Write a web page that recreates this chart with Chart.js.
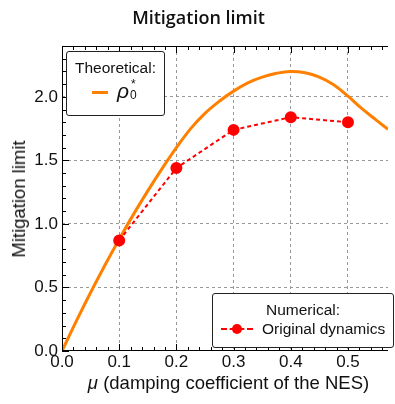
<html>
<head>
<meta charset="utf-8">
<script src="https://cdn.jsdelivr.net/npm/chart.js"></script>
<style>
  body { margin:0; background:#fff; }
  #wrap { position:relative; width:395px; height:404px; font-family:"Liberation Sans", Arial, sans-serif; color:#111; }
  #title { position:absolute; left:0; width:397px; top:5px; text-align:center; font-family:"Open Sans", sans-serif; font-weight:600; font-size:18px; }
  #ytitle { position:absolute; left:19px; top:199px; transform:translate(-50%,-50%) rotate(-90deg); white-space:nowrap; font-size:18.5px; }
  #xtitle { position:absolute; left:62px; width:333px; top:372px; text-align:center; font-size:18.5px; white-space:nowrap; }
  .box { position:absolute; border:1px solid #222; border-radius:3px; background:#fff; font-size:15.5px; }
  #legTheo { left:66px; top:51px; width:97px; height:63px; }
  #legNum { left:212px; top:293px; width:180px; height:53px; }
</style>
</head>
<body>
<div id="wrap">
  <canvas id="chart" width="395" height="404"></canvas>
  <div id="title">Mitigation limit</div>
  <div id="ytitle">Mitigation limit</div>
  <div id="xtitle"><i>μ</i> (damping coefficient of the NES)</div>
  <div class="box" id="legTheo">
    <div style="position:absolute;left:0;width:97px;top:7px;text-align:center;">Theoretical:</div>
    <div style="position:absolute;left:25px;top:39px;width:16px;height:3px;background:#ff8000;"></div>
    <div style="position:absolute;left:50px;top:28px;font-size:21px;line-height:21px;"><i>ρ</i></div>
    <div style="position:absolute;left:63px;top:37px;font-size:12px;line-height:12px;">0</div>
    <div style="position:absolute;left:64px;top:26px;font-size:12px;line-height:12px;">*</div>
  </div>
  <div class="box" id="legNum">
    <div style="position:absolute;left:0;width:180px;top:7px;text-align:center;">Numerical:</div>
    <div style="position:absolute;left:8px;top:34px;width:32px;border-top:2px dashed #f00;"></div>
    <div style="position:absolute;left:19px;top:30px;width:10px;height:10px;border-radius:50%;background:#f00;"></div>
    <div style="position:absolute;left:49px;top:26px;white-space:nowrap;">Original dynamics</div>
  </div>
</div>
<script>
// theoretical curve rho_0*
const muTheory = [0, 0.025, 0.05, 0.075, 0.1, 0.125, 0.15, 0.175, 0.2, 0.225, 0.25, 0.275, 0.3, 0.325, 0.35, 0.375, 0.4, 0.425, 0.45, 0.475, 0.5, 0.525, 0.55, 0.57];
const rhoTheory = [0, 0.235, 0.46, 0.675, 0.88, 1.075, 1.26, 1.435, 1.60, 1.75, 1.87, 1.965, 2.045, 2.11, 2.155, 2.185, 2.20, 2.19, 2.155, 2.095, 2.005, 1.905, 1.815, 1.745];
// numerical results (original dynamics)
const muNumeric = [0.1, 0.2, 0.3, 0.4, 0.5];
const limitNumeric = [0.87, 1.44, 1.74, 1.84, 1.80];
// tick values
const xTickValues = [0, 0.1, 0.2, 0.3, 0.4, 0.5];
const yTickValues = [0, 0.5, 1.0, 1.5, 2.0];
const xMinorStep = 0.02, yMinorStep = 0.1;

// inward ticks + frame, mathematica style
const frameTicks = {
  id: 'frameTicks',
  afterDraw(chart) {
    const ctx = chart.ctx, a = chart.chartArea;
    const xs = chart.scales.x, ys = chart.scales.y;
    ctx.save();
    ctx.strokeStyle = '#000';
    ctx.lineWidth = 1;
    ctx.beginPath();
    ctx.moveTo(a.right, a.top + 0.5); ctx.lineTo(a.left + 0.5, a.top + 0.5);
    ctx.lineTo(a.left + 0.5, a.bottom - 0.5); ctx.lineTo(a.right, a.bottom - 0.5);
    ctx.stroke();
    ctx.beginPath();
    for (let i = 0; i * xMinorStep <= xs.max + 1e-9; i++) {
      const v = i * xMinorStep;
      const px = Math.round(xs.getPixelForValue(v)) + 0.5;
      const len = (i % 5 === 0) ? 7 : 4;
      ctx.moveTo(px, a.bottom); ctx.lineTo(px, a.bottom - len);
      ctx.moveTo(px, a.top); ctx.lineTo(px, a.top + len);
    }
    for (let i = 0; i * yMinorStep <= ys.max + 1e-9; i++) {
      const v = i * yMinorStep;
      const py = Math.round(ys.getPixelForValue(v)) + 0.5;
      const len = (i % 5 === 0) ? 7 : 4;
      ctx.moveTo(a.left, py); ctx.lineTo(a.left + len, py);
    }
    ctx.stroke();
    ctx.restore();
  }
};

const ctx = document.getElementById('chart').getContext('2d');
const chart = new Chart(ctx, {
  type: 'scatter',
  data: {
    datasets: [{
      label: 'Original dynamics',
      data: muNumeric.map((m, i) => ({x: m, y: limitNumeric[i]})),
      showLine: true,
      borderColor: '#ff0000',
      backgroundColor: '#ff0000',
      borderWidth: 2,
      borderDash: [4, 3],
      pointRadius: 5,
      pointHoverRadius: 5,
      order: 0
    }, {
      label: 'rho0*',
      data: muTheory.map((m, i) => ({x: m, y: rhoTheory[i]})),
      showLine: true,
      borderColor: '#ff8000',
      borderWidth: 3,
      pointRadius: 0,
      tension: 0.4,
      order: 1
    }]
  },
  options: {
    responsive: false,
    animation: false,
    layout: { padding: { top: 46, left: 0, right: 0, bottom: 0 } },
    plugins: { legend: { display: false }, tooltip: { enabled: false }, title: { display: false } },
    scales: {
      x: {
        type: 'linear', min: 0, max: 0.57,
        afterBuildTicks: s => { s.ticks = xTickValues.map(v => ({value: v})); },
        afterFit: s => { s.height = 53; },
        grid: { color: c => c.tick.value === 0 ? 'rgba(0,0,0,0)' : '#999', drawTicks: false },
        border: { display: false, dash: [3, 3] },
        ticks: { padding: 1, color: '#111', font: { family: 'Liberation Sans', size: 17 }, maxRotation: 0, callback: v => v.toFixed(1) }
      },
      y: {
        type: 'linear', min: 0, max: 2.4,
        afterBuildTicks: s => { s.ticks = yTickValues.map(v => ({value: v})); },
        afterFit: s => { s.width = 62; },
        grid: { color: c => c.tick.value === 0 ? 'rgba(0,0,0,0)' : '#999', drawTicks: false },
        border: { display: false, dash: [3, 3] },
        ticks: { padding: 4, color: '#111', font: { family: 'Liberation Sans', size: 17 }, callback: v => v.toFixed(1) }
      }
    }
  },
  plugins: [frameTicks]
});
</script>
</body>
</html>
